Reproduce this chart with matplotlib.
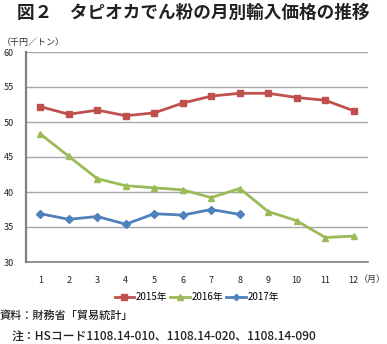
import matplotlib.pyplot as plt

plt.rcParams['font.family'] = ['Noto Sans CJK JP', 'DejaVu Sans']

months = list(range(1, 13))
price_2015 = [52.2, 51.1, 51.7, 50.9, 51.3, 52.7, 53.7, 54.1, 54.1, 53.5, 53.1, 51.6]
price_2016 = [48.3, 45.1, 41.9, 40.9, 40.6, 40.3, 39.2, 40.5, 37.2, 35.9, 33.5, 33.7]
price_2017 = [36.9, 36.1, 36.5, 35.4, 36.9, 36.7, 37.5, 36.8]
yticks = [30, 35, 40, 45, 50, 55, 60]

fig = plt.figure(figsize=(3.87, 3.44), dpi=100)
W, H = 387, 344
ax = fig.add_axes([26 / W, (H - 262) / H, (368 - 26) / W, (262 - 52) / H])

ax.plot(months, price_2015, color='#C0504D', marker='s', markersize=5, lw=2, label='2015年')
ax.plot(months, price_2016, color='#9BBB59', marker='^', markersize=5, lw=2, label='2016年')
ax.plot(months[:len(price_2017)], price_2017, color='#4F81BD', marker='D', markersize=4, lw=2, label='2017年')

ax.set_xlim(0.5, 12.5)
ax.set_ylim(30, 60)
ax.set_yticks(yticks)
ax.set_xticks(months)
ax.grid(axis='y', color='#A6A6A6', lw=1)
ax.set_axisbelow(True)
for s in ['top', 'right']:
    ax.spines[s].set_visible(False)
ax.spines['left'].set_color('#808080')
ax.spines['left'].set_linewidth(1.6)
ax.spines['bottom'].set_color('#808080')
ax.spines['bottom'].set_linewidth(1.2)
ax.tick_params(length=0, labelsize=6.5, colors='#222222')
ax.tick_params(axis='x', pad=10)
ax.tick_params(axis='y', pad=9)

fig.text(193 / W, 1 - 13 / H, '図２　タピオカでん粉の月別輸入価格の推移', ha='center', va='center',
         fontsize=12.7, fontweight='bold', color='#222222')
fig.text(2 / W, 1 - 43 / H, '（千円／トン）', ha='left', va='center', fontsize=6.5, color='#333333')
fig.text(386 / W, 1 - 279 / H, '（月）', ha='right', va='center', fontsize=6.5, color='#333333')

ax.legend(loc='center', bbox_to_anchor=(197 / W, 1 - 297 / H), bbox_transform=fig.transFigure,
          ncol=3, frameon=False, fontsize=7, handlelength=2.0, handletextpad=0.2, columnspacing=0.3,
          markerscale=0.8)

fig.text(0, 1 - 316 / H, '資料：財務省「貿易統計」', ha='left', va='center', fontsize=8,
         fontweight='medium', color='#222222')
fig.text(12 / W, 1 - 336 / H, '注：HSコード1108.14-010、1108.14-020、1108.14-090', ha='left', va='center',
         fontsize=8.6, fontweight='medium', color='#222222')

fig.savefig('out.png', dpi=100)
